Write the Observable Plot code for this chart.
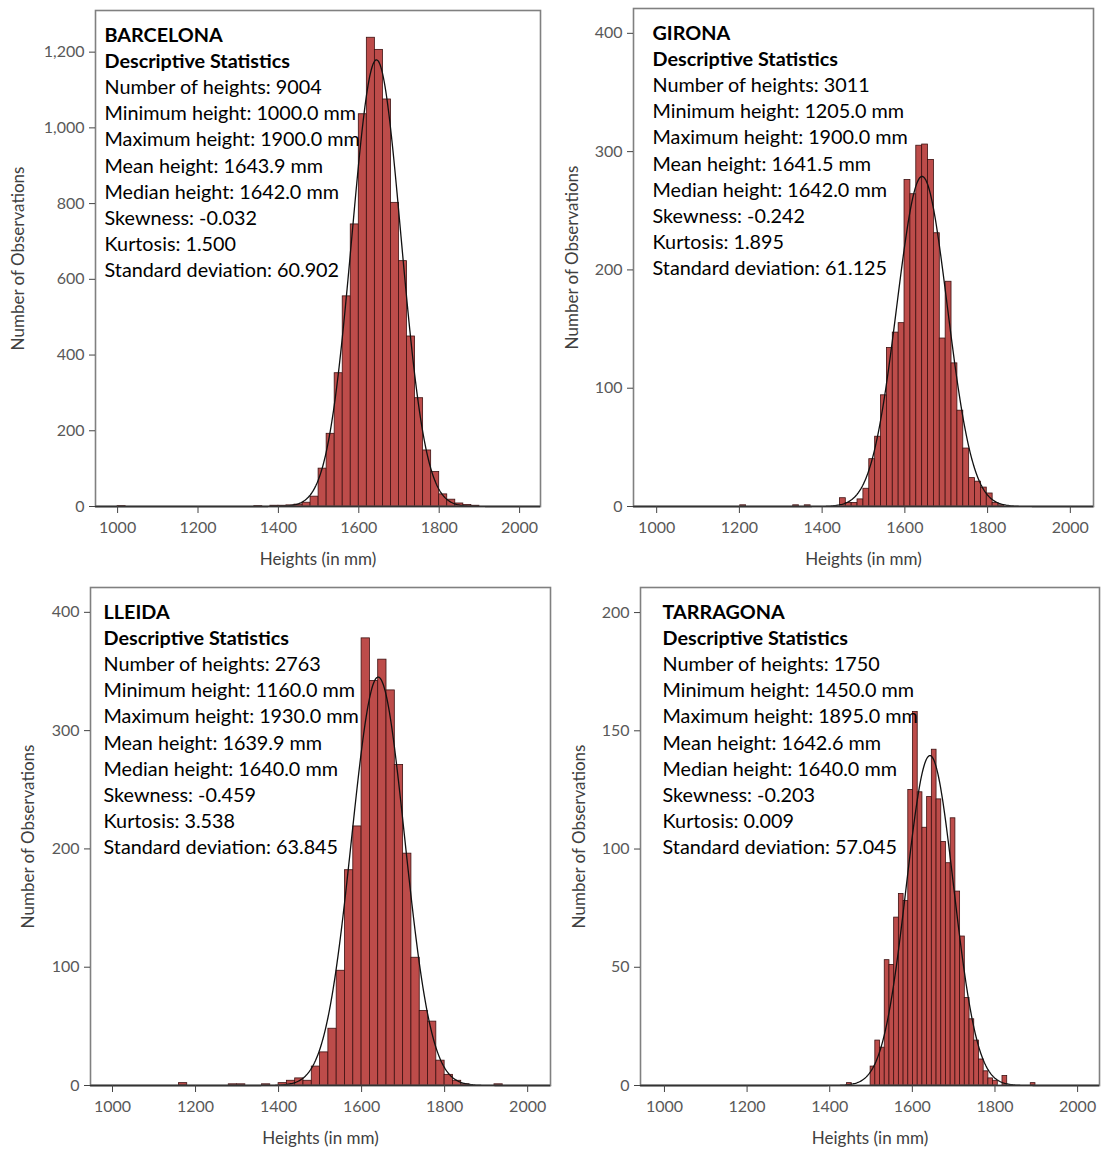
<!DOCTYPE html>
<html><head><meta charset="utf-8">
<script src="https://cdn.jsdelivr.net/npm/d3@7"></script>
<script src="https://cdn.jsdelivr.net/npm/@observablehq/plot@0.6"></script>
<style>
body{margin:0;background:#fff;}
#wrap{position:relative;width:1101px;height:1150px;overflow:hidden;background:#fff;}
#wrap svg{position:absolute;overflow:visible;}
</style></head><body><div id="wrap"></div>
<script>
// ---------- DATA ----------
const regions = ["BARCELONA", "GIRONA", "LLEIDA", "TARRAGONA"];
const nHeights = [9004, 3011, 2763, 1750];
const minHeight = [1000.0, 1205.0, 1160.0, 1450.0];
const maxHeight = [1900.0, 1900.0, 1930.0, 1895.0];
const meanHeight = [1643.9, 1641.5, 1639.9, 1642.6];
const medianHeight = [1642.0, 1642.0, 1640.0, 1640.0];
const skewness = [-0.032, -0.242, -0.459, -0.203];
const kurtosis = [1.500, 1.895, 3.538, 0.009];
const stdDev = [60.902, 61.125, 63.845, 57.045];

// histogram bins (mm): first bin lower edge and bin width, then counts
const binStart = [1460, 1443, 1160, 1499];
const binWidth = [20, 14.2, 20, 11.4];
const barcelonaCounts = [10, 26, 100, 192, 352, 555, 745, 1036, 1238, 1206, 1075, 802, 648, 449, 286, 148, 91, 32, 18, 8, 4, 2];
const gironaCounts = [7, 3, 3, 6, 15, 40, 59, 94, 134, 147, 155, 276, 264, 305, 306, 293, 231, 142, 190, 121, 81, 49, 24, 21, 16, 11, 3, 1];
const lleidaCounts = [2, 0, 0, 0, 0, 0, 1, 1, 0, 0, 1, 0, 2, 4, 6, 4, 16, 28, 48, 97, 182, 219, 378, 342, 360, 334, 271, 196, 108, 63, 54, 21, 9, 4, 1, 0, 0, 0, 1];
const tarragonaCounts = [8, 19, 16, 53, 51, 71, 81, 78, 125, 158, 124, 109, 122, 142, 121, 103, 94, 113, 82, 63, 37, 28, 19, 11, 6, 3, 2, 0, 4, 0, 0, 0, 0, 0, 1];
// isolated low outlier bins: [lower edge mm, count]
const barcelonaExtra = [[1000, 1], [1340, 1], [1380, 2], [1400, 2], [1420, 3], [1440, 5]];
const gironaExtra = [[1202, 1], [1330, 1], [1358, 1]];
const lleidaExtra = [];
const tarragonaExtra = [[1442, 1]];

const xTicks = [1000, 1200, 1400, 1600, 1800, 2000];
const yTicksList = [
  [0, 200, 400, 600, 800, 1000, 1200],
  [0, 100, 200, 300, 400],
  [0, 100, 200, 300, 400],
  [0, 50, 100, 150, 200]
];
const xLabel = "Heights (in mm)";
const yLabel = "Number of Observations";
const subTitle = "Descriptive Statistics";

const countsList = [barcelonaCounts, gironaCounts, lleidaCounts, tarragonaCounts];
const extraList = [barcelonaExtra, gironaExtra, lleidaExtra, tarragonaExtra];

// ---------- LAYOUT ----------
const layout = [
  {left: 0,   top: 0,   width: 560, height: 580, mL: 95, mT: 10, mR: 20, mB: 74, xDom: [945, 2052], yTop: 1310, dx: 9,  dy: 13, yOff: -77},
  {left: 560, top: 0,   width: 541, height: 580, mL: 73, mT: 8,  mR: 8,  mB: 74, xDom: [944, 2056], yTop: 421,  dx: 19, dy: 13, yOff: -61},
  {left: 0,   top: 580, width: 560, height: 570, mL: 90, mT: 7,  mR: 10, mB: 65, xDom: [947, 2055], yTop: 421,  dx: 13, dy: 13, yOff: -62},
  {left: 560, top: 580, width: 541, height: 570, mL: 80, mT: 7,  mR: 2,  mB: 65, xDom: [942, 2053], yTop: 210.6, dx: 22, dy: 13, yOff: -61}
];

const FONT = "Lato, 'Open Sans', 'DejaVu Sans', sans-serif";
const LINE = 26.1;
const TXT = 19.8;
const wrap = document.getElementById("wrap");

regions.forEach((name, i) => {
  const L = layout[i];
  const w = binWidth[i];
  const bins = countsList[i].map((c, k) => ({x1: binStart[i] + k * w, x2: binStart[i] + (k + 1) * w, c}))
    .concat(extraList[i].map(([s, c]) => ({x1: s, x2: s + w, c})))
    .filter(d => d.c > 0);
  const sd = stdDev[i], mu = meanHeight[i];
  const curve = d3.range(L.xDom[0], L.xDom[1] + 0.5, 2).map(x => ({
    x, y: nHeights[i] * w * Math.exp(-0.5 * ((x - mu) / sd) ** 2) / (sd * Math.sqrt(2 * Math.PI))
  }));
  const head = name + "\n" + subTitle;
  const body = [
    "Number of heights: " + nHeights[i],
    "Minimum height: " + minHeight[i].toFixed(1) + " mm",
    "Maximum height: " + maxHeight[i].toFixed(1) + " mm",
    "Mean height: " + meanHeight[i].toFixed(1) + " mm",
    "Median height: " + medianHeight[i].toFixed(1) + " mm",
    "Skewness: " + skewness[i].toFixed(3),
    "Kurtosis: " + kurtosis[i].toFixed(3),
    "Standard deviation: " + stdDev[i].toFixed(3)
  ].join("\n");

  const svg = Plot.plot({
    width: L.width, height: L.height,
    marginLeft: L.mL, marginTop: L.mT, marginRight: L.mR, marginBottom: L.mB,
    style: {fontFamily: FONT, fontSize: "16px", color: "#595959", background: "transparent", overflow: "visible"},
    x: {domain: L.xDom, label: null},
    y: {domain: [0, L.yTop], label: null},
    marks: [
      Plot.rectY(bins, {x1: "x1", x2: "x2", y: "c", fill: "#bd4c4a", stroke: "#3d1111", strokeWidth: 0.8, inset: 0}),
      Plot.line(curve, {x: "x", y: "y", stroke: "#111", strokeWidth: 1.3}),
      Plot.frame({stroke: "#808080", strokeWidth: 1.6}),
      Plot.ruleY([0], {stroke: "#333", strokeWidth: 1.6}),
      Plot.axisX({ticks: xTicks, tickSize: 7, tickPadding: 8, tickFormat: d => String(d),
        label: null, stroke: "#444", fontSize: 16}),
      Plot.axisY({ticks: yTicksList[i], tickSize: 6, tickPadding: 5, label: null, stroke: "#444", fontSize: 16}),
      Plot.text([xLabel], {frameAnchor: "bottom", text: d => d, dy: 53, fontSize: 17, lineAnchor: "middle",
        textAnchor: "middle", fill: "#404040"}),
      Plot.text([yLabel], {frameAnchor: "left", text: d => d, dx: L.yOff, rotate: -90, fontSize: 17,
        lineAnchor: "middle", textAnchor: "middle", fill: "#404040"}),
      Plot.text([head], {frameAnchor: "top-left", text: d => d, dx: L.dx, dy: L.dy, fontWeight: "bold",
        fontSize: TXT, lineHeight: LINE / TXT, textAnchor: "start", lineAnchor: "top", fill: "#000"}),
      Plot.text([body], {frameAnchor: "top-left", text: d => d, dx: L.dx, dy: L.dy + 2 * LINE,
        fontSize: TXT, lineHeight: LINE / TXT, textAnchor: "start", lineAnchor: "top", fill: "#000"})
    ]
  });
  svg.style.left = L.left + "px";
  svg.style.top = L.top + "px";
  wrap.appendChild(svg);
});
</script>
</body></html>
